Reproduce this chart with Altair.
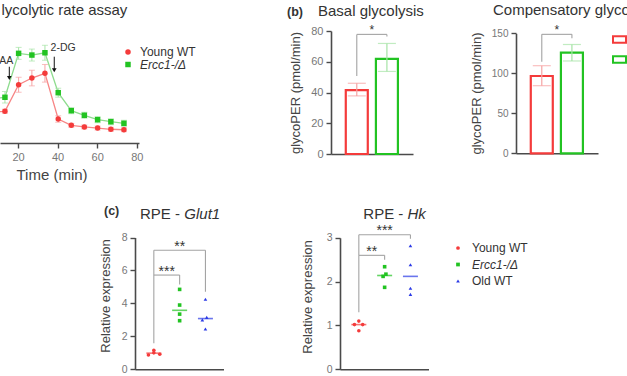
import altair as alt
import pandas as pd

# ------------------------------------------------------------------ data
GROUPS = ["Young WT", "Ercc1-/Δ", "Old WT"]

# (a) glycolytic rate assay, glycoPER over time
time_min  = [6.7, 13.4, 20.3, 27.0, 33.6, 40.3, 46.9, 53.5, 60.2, 66.9, 73.5]
young_per = [35.0, 36.2, 76.7, 86.9, 94.1, 24.5, 14.9, 12.4, 10.8, 8.9, 8.2]
young_sem = [3.0, 3.0, 11.4, 11.9, 13.4, 4.9, 3.0, 3.0, 3.0, 3.0, 3.0]
ercc1_per = [55.0, 57.6, 124.5, 121.9, 125.4, 64.6, 37.2, 30.2, 23.5, 20.4, 18.0]
ercc1_sem = [8.8, 8.8, 9.1, 9.1, 11.4, 6.8, 4.6, 4.6, 4.6, 4.6, 4.6]
inj_label = ["Rot/AA", "2-DG"]
inj_time = [15.6, 38.3]
inj_top = [104.1, 119.4]
inj_head = [86.9, 98.7]
inj_text_time = [9.2, 42.8]
inj_text_val = [109.0, 128.0]

# (b) basal / compensatory glycolysis
bar_groups = GROUPS[:2]
basal_mean = [41.5, 61.9]
basal_lo = [37.8, 53.7]
basal_hi = [46.0, 71.9]
comp_mean = [96.6, 125.8]
comp_lo = [84.5, 115.4]
comp_hi = [109.5, 136.0]
basal_sig = dict(g1=[1], g2=[2], level=[77.8], left=[50.8], right=[76.5], label=["*"])
comp_sig = dict(g1=[1], g2=[2], level=[148.7], left=[114.5], right=[143.7], label=["*"])

# (c) RPE relative expression
glut1_vals = [[0.87, 0.91, 1.00, 1.15], [2.95, 3.35, 3.90, 4.85], [2.45, 3.00, 3.15, 4.25]]
glut1_dx = [[-0.21, 0.23, 0.0, 0.0], [0.0, 0.0, 0.0, 0.0], [0.0, -0.12, 0.05, 0.0]]
glut1_median = [0.98, 3.58, 3.08]
glut1_sig = dict(g1=[1, 1], g2=[3, 2], level=[7.23, 5.72], left=[5.72, 1.58],
                 right=[4.70, 5.15], label=["**", "***"])
hk_vals = [[0.88, 1.02, 1.02, 1.10], [1.87, 2.12, 2.17, 2.34], [1.71, 1.85, 2.385, 2.82]]
hk_dx = [[0.0, -0.17, 0.15, 0.0], [0.0, -0.06, 0.05, 0.0], [0.0, 0.0, 0.0, 0.0]]
hk_median = [1.02, 2.14, 2.12]
hk_sig = dict(g1=[1, 1], g2=[3, 2], level=[3.07, 2.60], left=[2.60, 1.30],
              right=[2.98, 2.50], label=["***", "**"])

# ------------------------------------------------------------------ styles
FONT = "Liberation Sans"
W, H = 627, 376
RED, GREEN, BLUE = "#f43b3b", "#22c322", "#2b3ae6"
RED_L, GREEN_L = "#f78585", "#8edc8e"
RED_E, GREEN_E = "#f6a3a3", "#a6e4a6"
AXIS_C, LABEL_C, TITLE_C, TXT = "#4a4a4a", "#777777", "#444444", "#333333"
BRACKET = "#a3a3a3"


def y_axis(x_px, values, title, title_dx, title_y, lsize=10, tsize=5, lpad=3):
    return alt.Axis(orient="left", offset=-x_px, values=values, title=title, grid=False,
                    domainColor=AXIS_C, domainWidth=1.6, tickColor=AXIS_C, tickWidth=1.4,
                    tickSize=tsize, labelColor=LABEL_C, labelFont=FONT, labelFontSize=lsize,
                    labelPadding=lpad, titleFont=FONT, titleFontSize=13,
                    titleFontWeight="normal", titleColor=TITLE_C, titleX=title_dx,
                    titleY=title_y, titleBaseline="middle", titleAngle=270)


def x_axis_plain(y_px):
    return alt.Axis(orient="bottom", offset=y_px - H, labels=False, ticks=False, title=None,
                    grid=False, domainColor=AXIS_C, domainWidth=1.6)


def brackets(sig, xs, ys, xax, yax, star_size, dy):
    base = alt.Chart(pd.DataFrame(sig))
    h = base.mark_rule(color=BRACKET, strokeWidth=1.1).encode(
        x=alt.X("g1:Q", scale=xs, axis=xax), x2="g2:Q",
        y=alt.Y("level:Q", scale=ys, axis=yax))
    l = base.mark_rule(color=BRACKET, strokeWidth=1.1).encode(
        x=alt.X("g1:Q", scale=xs, axis=xax),
        y=alt.Y("left:Q", scale=ys, axis=yax), y2="level:Q")
    r = base.mark_rule(color=BRACKET, strokeWidth=1.1).encode(
        x=alt.X("g2:Q", scale=xs, axis=xax),
        y=alt.Y("right:Q", scale=ys, axis=yax), y2="level:Q")
    t = base.transform_calculate(mid="(datum.g1 + datum.g2) / 2").mark_text(
        baseline="alphabetic", fontSize=star_size, font=FONT, color=TXT, dy=dy).encode(
        x=alt.X("mid:Q", scale=xs, axis=xax),
        y=alt.Y("level:Q", scale=ys, axis=yax), text="label:N")
    return [h, l, r, t]


def label(text, x, y, size=15, weight="normal", style="normal"):
    return alt.Chart(pd.DataFrame({"k": [0]})).mark_text(
        text=text, align="left", baseline="alphabetic", font=FONT, fontSize=size,
        fontWeight=weight, fontStyle=style, color=TXT).encode(
        x=alt.value(x), y=alt.value(y))


ital_expr = {"expr": "datum.label == 'Ercc1-/Δ' ? 'italic' : 'normal'"}

# ------------------------------------------------------------------ panel (a)
rows = []
for g, vals, errs in [(GROUPS[0], young_per, young_sem), (GROUPS[1], ercc1_per, ercc1_sem)]:
    for t, v, e in zip(time_min, vals, errs):
        rows.append({"time": t, "group": g, "value": v, "lo": v - e, "hi": v + e})
df_a = pd.DataFrame(rows)

xa = alt.Scale(domain=[10.9, 81.1], range=[0, 139], nice=False, zero=False)
ya = alt.Scale(domain=[-12, 157], range=[143, 32], nice=False, zero=False)
xa_axis = alt.Axis(orient="bottom", offset=143 - H, values=[20, 40, 60, 80], title="Time (min)",
                   grid=False, domainColor=AXIS_C, domainWidth=1.6, tickColor=AXIS_C,
                   tickWidth=1.4, tickSize=5, labelColor=LABEL_C, labelFont=FONT,
                   labelFontSize=11, labelPadding=3, titleFont=FONT, titleFontSize=15,
                   titleFontWeight="normal", titleColor=TITLE_C, titleX=51.5, titleY=36,
                   titleBaseline="alphabetic")
XA = alt.X("time:Q", scale=xa, axis=xa_axis)
line_col = alt.Color("group:N", scale=alt.Scale(domain=bar_groups, range=[RED_L, GREEN_L]), legend=None)
err_col = alt.Color("group:N", scale=alt.Scale(domain=bar_groups, range=[RED_E, GREEN_E]), legend=None)
leg_a = alt.Legend(title=None, orient="none", legendX=122, legendY=46, padding=0, rowPadding=0.5,
                   symbolSize=30, labelOffset=6, labelFont=FONT, labelFontSize=12,
                   labelColor=TXT, labelFontStyle=ital_expr)
pt_col = alt.Color("group:N", scale=alt.Scale(domain=bar_groups, range=[RED, GREEN]), legend=leg_a)
pt_shape = alt.Shape("group:N", scale=alt.Scale(domain=bar_groups, range=["circle", "square"]), legend=leg_a)

base_a = alt.Chart(df_a)
a_line = base_a.mark_line(strokeWidth=1.3).encode(XA, alt.Y("value:Q", scale=ya, axis=None), line_col)
a_err = base_a.mark_rule(strokeWidth=1).encode(XA, alt.Y("lo:Q", scale=ya, axis=None), alt.Y2("hi:Q"), err_col)
a_cap1 = base_a.mark_tick(orient="horizontal", size=6, thickness=1).encode(
    XA, alt.Y("lo:Q", scale=ya, axis=None), err_col)
a_cap2 = base_a.mark_tick(orient="horizontal", size=6, thickness=1).encode(
    XA, alt.Y("hi:Q", scale=ya, axis=None), err_col)
a_pts = base_a.mark_point(filled=True, size=30, opacity=1).encode(
    XA, alt.Y("value:Q", scale=ya, axis=None), pt_col, pt_shape)

df_inj = pd.DataFrame({"label": inj_label, "time": inj_time, "top": inj_top, "head": inj_head,
                       "ttime": inj_text_time, "tval": inj_text_val})
base_i = alt.Chart(df_inj)
a_arrow = base_i.mark_rule(color="#111111", strokeWidth=1).encode(
    XA, alt.Y("top:Q", scale=ya, axis=None), alt.Y2("head:Q"))
a_head = base_i.mark_point(shape="triangle-down", filled=True, size=22, color="#111111", opacity=1).encode(
    XA, alt.Y("head:Q", scale=ya, axis=None))
a_text = base_i.mark_text(font=FONT, fontSize=10.5, color=TXT, baseline="alphabetic").encode(
    alt.X("ttime:Q", scale=xa, axis=xa_axis), alt.Y("tval:Q", scale=ya, axis=None), text="label:N")

panel_a = alt.layer(a_line, a_err, a_cap1, a_cap2, a_pts, a_arrow, a_head, a_text).resolve_scale(
    color="independent", shape="independent")

# ------------------------------------------------------------------ panel (b)


def bar_panel(mean, lo, hi, sig, x0, x1, y0, y1, ymax, yvals, title_dx, title_y, legend, lsize):
    df = pd.DataFrame({"pos": [1, 2], "group": bar_groups, "mean": mean, "lo": lo, "hi": hi})
    xs = alt.Scale(domain=[0.31, 2.7], range=[x0, x1], nice=False, zero=False)
    ys = alt.Scale(domain=[0, ymax], range=[y0, y1], nice=False, zero=False)
    xax = x_axis_plain(y0)
    yax = y_axis(x0, yvals, "glycoPER (pmol/min)", title_dx, title_y, lsize=lsize)
    X = alt.X("pos:Q", scale=xs, axis=xax)
    base = alt.Chart(df)
    bars = base.mark_bar(size=22, fill="white", strokeWidth=2.2).encode(
        X, alt.Y("mean:Q", scale=ys, axis=yax),
        stroke=alt.Stroke("group:N", scale=alt.Scale(domain=bar_groups, range=[RED, GREEN]), legend=legend))
    ecol = alt.Color("group:N", scale=alt.Scale(domain=bar_groups, range=[RED_E, GREEN_E]), legend=None)
    err = base.mark_rule(strokeWidth=1.2).encode(X, alt.Y("lo:Q", scale=ys, axis=yax), alt.Y2("hi:Q"), ecol)
    c1 = base.mark_tick(orient="horizontal", size=18, thickness=1.2).encode(
        X, alt.Y("lo:Q", scale=ys, axis=yax), ecol)
    c2 = base.mark_tick(orient="horizontal", size=18, thickness=1.2).encode(
        X, alt.Y("hi:Q", scale=ys, axis=yax), ecol)
    return alt.layer(bars, err, c1, c2, *brackets(sig, xs, ys, xax, yax, 12, 0)).resolve_scale(
        color="independent", stroke="independent")


leg_b = alt.Legend(title=None, orient="none", legendX=612, legendY=32, padding=0, rowPadding=5,
                   symbolType="M-1,-0.5H1V0.5H-1Z", symbolSize=169, symbolStrokeWidth=2,
                   symbolFillColor="white", labelFont=FONT, labelFontSize=12, labelColor=TXT,
                   labelFontStyle=ital_expr)
panel_b1 = bar_panel(basal_mean, basal_lo, basal_hi, basal_sig, 331, 413, 154, 31, 80,
                     [0, 20, 40, 60, 80], -36, 92.5, None, 11)
panel_b2 = bar_panel(comp_mean, comp_lo, comp_hi, comp_sig, 516, 598, 153.3, 33.3, 150,
                     [0, 50, 100, 150], -40, 93, leg_b, 10)

# ------------------------------------------------------------------ panel (c)


def dot_panel(vals, dxs, medians, sig, x0, x1, y0, y1, ymax, yvals, title_dx, title_y, legend):
    rows = []
    for i, (g, vv, dd) in enumerate(zip(GROUPS, vals, dxs)):
        for v, d in zip(vv, dd):
            rows.append({"group": g, "pos": i + 1, "dx": d, "value": v})
    df = pd.DataFrame(rows)
    dfm = pd.DataFrame({"group": GROUPS, "pos": [1, 2, 3], "median": medians})
    xs = alt.Scale(domain=[0.27, 3.7], range=[x0, x1], nice=False, zero=False)
    ys = alt.Scale(domain=[0, ymax], range=[y0, y1], nice=False, zero=False)
    xax = x_axis_plain(y0)
    yax = y_axis(x0, yvals, "Relative expression", title_dx, title_y, lsize=10.5, tsize=5, lpad=3)
    col = alt.Color("group:N", scale=alt.Scale(domain=GROUPS, range=[RED, GREEN, BLUE]), legend=legend)
    shp = alt.Shape("group:N", scale=alt.Scale(domain=GROUPS, range=["circle", "square", "triangle-up"]),
                    legend=legend)
    med = alt.Chart(dfm).mark_tick(orient="horizontal", size=15, thickness=1.6).encode(
        alt.X("pos:Q", scale=xs, axis=xax), alt.Y("median:Q", scale=ys, axis=yax),
        alt.Color("group:N", scale=alt.Scale(domain=GROUPS, range=[RED, GREEN, BLUE]), legend=None))
    pts = alt.Chart(df).transform_calculate(xj="datum.pos + datum.dx").mark_point(
        filled=True, size=13, opacity=1).encode(
        alt.X("xj:Q", scale=xs, axis=xax), alt.Y("value:Q", scale=ys, axis=yax), col, shp)
    return alt.layer(med, pts, *brackets(sig, xs, ys, xax, yax, 14, 0.5)).resolve_scale(
        color="independent", shape="independent")


leg_c = alt.Legend(title=None, orient="none", legendX=452, legendY=242, padding=0, rowPadding=4.5,
                   symbolSize=14, labelOffset=8, labelFont=FONT, labelFontSize=12, labelColor=TXT,
                   labelFontStyle=ital_expr)
panel_c1 = dot_panel(glut1_vals, glut1_dx, glut1_median, glut1_sig, 135, 223.5, 369.3, 237.5, 8,
                     [0, 2, 4, 6, 8], -30, 295.5, None)
panel_c2 = dot_panel(hk_vals, hk_dx, hk_median, hk_sig, 340, 428.5, 369.3, 237.8, 3,
                     [0, 1, 2, 3], -33, 296.5, leg_c)

# ------------------------------------------------------------------ titles
titles = [
    label("lycolytic rate assay", 1.5, 15),
    label("(b)", 287, 15.5, size=12.5, weight="bold"),
    label("Basal glycolysis", 318, 15.5),
    label("Compensatory glycolysis", 493, 15),
    label("(c)", 104, 215, size=12.5, weight="bold"),
    label("RPE - ", 140, 218.5),
    label("Glut1", 184.3, 218.5, style="italic"),
    label("RPE - ", 363.3, 219),
    label("Hk", 407.5, 219, style="italic"),
]

chart = alt.layer(panel_a, panel_b1, panel_b2, panel_c1, panel_c2, *titles).resolve_scale(
    x="independent", y="independent", color="independent", shape="independent",
    stroke="independent").resolve_axis(x="independent", y="independent").properties(
    width=W, height=H, padding=0, autosize=alt.AutoSizeParams(type="none"),
    background="white").configure_view(stroke=None).configure_axis(grid=False)

chart.save("out.html", embed_options={"renderer": "svg", "actions": False})
